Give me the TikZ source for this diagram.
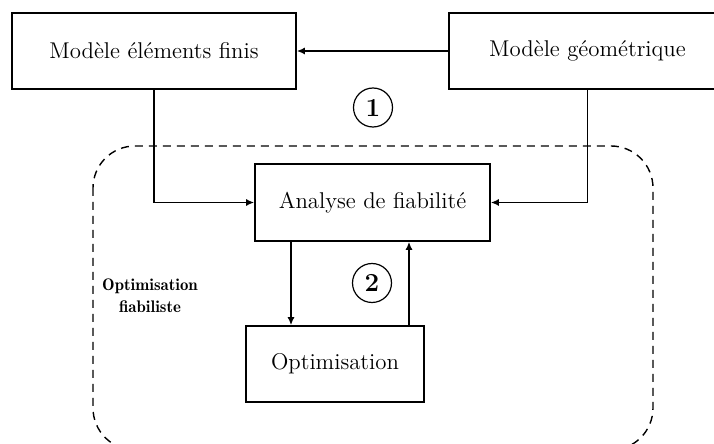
\documentclass[tikz,border=0pt]{standalone}
\usetikzlibrary{arrows.meta, positioning}
\tikzset{
  bloc/.style={rectangle, draw=black, line width=0.8pt, minimum height=38pt,
    inner sep=0pt, align=center, fill=white, font=\fontsize{11.4}{14}\selectfont},
  num/.style={circle, draw=black, line width=0.6pt, minimum size=19.5pt,
    inner sep=0pt, font=\fontsize{13}{15}\selectfont\bfseries},
  arr/.style={-{Latex[length=4pt, width=3.5pt]}, line width=0.8pt},
  zone/.style={dash pattern=on 4pt off 3pt, line width=0.7pt, rounded corners=21pt},
}

\begin{document}
\begin{tikzpicture}[x=0.5pt, y=-0.5pt]
  \useasboundingbox (0,0) rectangle (714,444);
  % zone optimisation fiabiliste
  \draw[zone] (93,146) rectangle (653,450);
  \node[font=\fontsize{8.4}{10}\selectfont\fontseries{b}\selectfont, align=center, inner sep=0pt] (zlabel) at (150,296) {Optimisation\\[1pt]fiabiliste};

  % blocs
  \node[bloc, minimum width=142pt] (fem) at (154,51) {Modèle éléments finis};
  \node[bloc, minimum width=138.5pt] (geo) at (587.5,51) {Modèle géométrique};
  \node[bloc, minimum width=117.5pt, minimum height=38.5pt] (fiab) at (372.5,202.5) {Analyse de fiabilité};
  \node[bloc, minimum width=89pt] (optim) at (335,364) {Optimisation};

  % numeros
  \node[num] (n1) at (373,107.5) {1};
  \node[num] (n2) at (372,283) {2};

  \draw[arr] (geo) -- (fem);
  \draw[arr] (fem.south) |- (fiab.west);
  \draw[arr] (geo.south) |- (fiab.east);
  \draw[arr] ([xshift=-40.75pt]fiab.south) -- ([xshift=-40.75pt]fiab.south |- optim.north);
  \draw[arr] ([xshift=37pt]optim.north) -- ([xshift=37pt]optim.north |- fiab.south);
\end{tikzpicture}
\end{document}
